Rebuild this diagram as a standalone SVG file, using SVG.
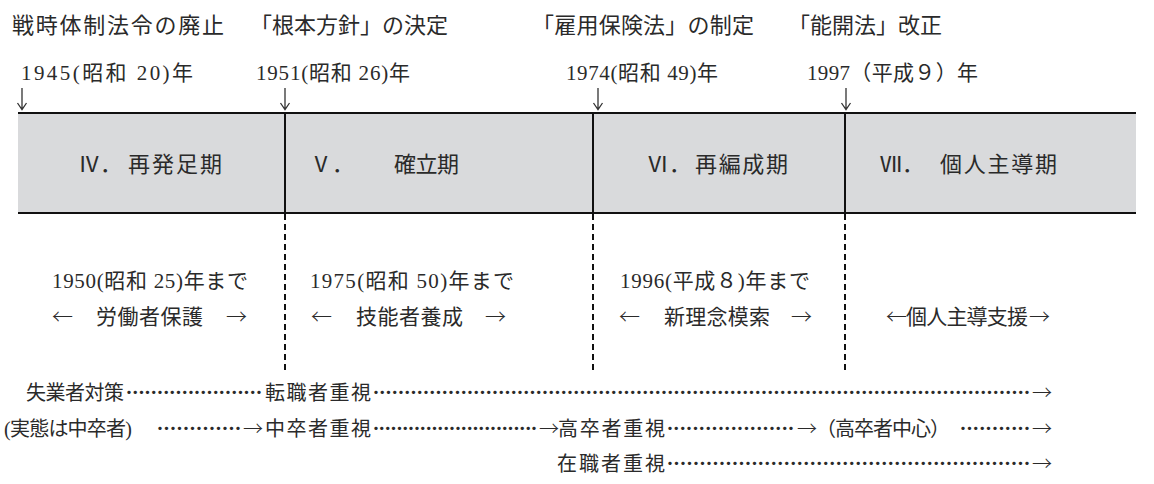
<svg xmlns="http://www.w3.org/2000/svg" width="1154" height="484" viewBox="0 0 1154 484">
<style>
text{font-family:"Liberation Serif","Noto Sans CJK JP",serif;fill:#2a2a2a}
.h{font-size:22px}
.y{font-size:21px}
.t{font-size:22px}
.m{font-size:21px}
.b{font-size:20px}
.cj{font-family:"Noto Sans CJK JP",sans-serif;font-weight:300}
.da{stroke:#333;stroke-width:1.3;fill:none}
.solid{stroke:#111;stroke-width:2;fill:none}
.dash{stroke:#111;stroke-width:2;stroke-dasharray:6 4;fill:none}
</style>
<defs>
<path id="down" class="da" d="M0,88 V109 M-4.5,103 L0,109.5 L4.5,103"/>
</defs>
<rect width="1154" height="484" fill="#fff"/>
<g id="events">
<text class="h" x="12" y="33" textLength="212" lengthAdjust="spacing">戦時体制法令の廃止</text>
<text class="h" x="250" y="33" textLength="198" lengthAdjust="spacing">「根本方針」の決定</text>
<text class="h" x="532" y="33" textLength="222" lengthAdjust="spacing">「雇用保険法」の制定</text>
<text class="h" x="788" y="33" textLength="154" lengthAdjust="spacing">「能開法」改正</text>
<text class="y" x="21" y="80" textLength="172" lengthAdjust="spacing">1945(昭和 20)年</text>
<text class="y" x="256" y="80" textLength="154" lengthAdjust="spacing">1951(昭和 26)年</text>
<text class="y" x="566" y="80" textLength="152" lengthAdjust="spacing">1974(昭和 49)年</text>
<text class="y" x="807" y="80" textLength="171" lengthAdjust="spacing">1997（平成９）年</text>
</g>
<g id="band">
<rect x="18" y="113" width="1118" height="100" fill="#d9dadc"/>
<line class="solid" x1="18" y1="113" x2="1136" y2="113"/>
<line class="solid" x1="18" y1="213" x2="1136" y2="213"/>
<line class="solid" x1="285" y1="113" x2="285" y2="213"/>
<line class="solid" x1="593" y1="113" x2="593" y2="213"/>
<line class="solid" x1="845" y1="113" x2="845" y2="213"/>
</g>
<g id="period4">
<text class="t" y="172"><tspan x="78">Ⅳ．</tspan><tspan x="128" textLength="94" lengthAdjust="spacing">再発足期</tspan></text>
<text class="m" x="52" y="288" textLength="196" lengthAdjust="spacing">1950(昭和 25)年まで</text>
<text class="m" y="324"><tspan class="cj" x="52">←</tspan><tspan x="96" textLength="107" lengthAdjust="spacing">労働者保護</tspan><tspan class="cj" x="226">→</tspan></text>
</g>
<g id="period5">
<text class="t" y="172"><tspan x="310">Ⅴ．</tspan><tspan x="394" textLength="65" lengthAdjust="spacing">確立期</tspan></text>
<text class="m" x="310" y="288" textLength="204" lengthAdjust="spacing">1975(昭和 50)年まで</text>
<text class="m" y="324"><tspan class="cj" x="311">←</tspan><tspan x="356" textLength="107" lengthAdjust="spacing">技能者養成</tspan><tspan class="cj" x="485">→</tspan></text>
</g>
<g id="period6">
<text class="t" y="172"><tspan x="647">Ⅵ．</tspan><tspan x="695" textLength="93" lengthAdjust="spacing">再編成期</tspan></text>
<text class="m" x="620" y="288" textLength="190" lengthAdjust="spacing">1996(平成８)年まで</text>
<text class="m" y="324"><tspan class="cj" x="619">←</tspan><tspan x="664" textLength="106" lengthAdjust="spacing">新理念模索</tspan><tspan class="cj" x="791">→</tspan></text>
</g>
<g id="period7">
<text class="t" y="172"><tspan x="880">Ⅶ．</tspan><tspan x="940" textLength="117" lengthAdjust="spacing">個人主導期</tspan></text>
<text class="m" y="324"><tspan class="cj" x="886">←</tspan><tspan x="906" textLength="122" lengthAdjust="spacing">個人主導支援</tspan><tspan class="cj" x="1029">→</tspan></text>
</g>
<g id="connectors">
<use href="#down" x="22"/>
<use href="#down" x="285"/>
<use href="#down" x="598"/>
<use href="#down" x="846"/>
<line class="dash" x1="285" y1="214" x2="285" y2="372"/>
<line class="dash" x1="593" y1="214" x2="593" y2="372"/>
<line class="dash" x1="845" y1="214" x2="845" y2="372"/>
</g>
<g id="trends">
<text class="b" y="400"><tspan x="26" textLength="98" lengthAdjust="spacing">失業者対策</tspan><tspan x="124" textLength="140" lengthAdjust="spacing">･･････････････････････</tspan><tspan x="265" textLength="106" lengthAdjust="spacing">転職者重視</tspan><tspan x="371" textLength="661" lengthAdjust="spacing">･････････････････････････････････････････････････････････････････････････････････････････････････････････</tspan><tspan class="cj" x="1032">→</tspan></text>
<text class="b" y="436"><tspan x="4" textLength="128" lengthAdjust="spacing">(実態は中卒者)</tspan><tspan x="155" textLength="88" lengthAdjust="spacing">･････････････</tspan><tspan class="cj" x="243" font-weight="bold">→</tspan><tspan x="265" textLength="106" lengthAdjust="spacing">中卒者重視</tspan><tspan x="371" textLength="168" lengthAdjust="spacing">････････････････････････････</tspan><tspan class="cj" x="539">→</tspan><tspan x="558" textLength="107" lengthAdjust="spacing">高卒者重視</tspan><tspan x="665" textLength="131" lengthAdjust="spacing">････････････････････</tspan><tspan class="cj" x="797">→</tspan><tspan x="816" textLength="134" lengthAdjust="spacing">（高卒者中心）</tspan><tspan x="958" textLength="74" lengthAdjust="spacing">･･･････････</tspan><tspan class="cj" x="1032">→</tspan></text>
<text class="b" y="471"><tspan x="557" textLength="108" lengthAdjust="spacing">在職者重視</tspan><tspan x="665" textLength="367" lengthAdjust="spacing">････････････････････････････････････････････････････････</tspan><tspan class="cj" x="1032">→</tspan></text>
</g>
</svg>
